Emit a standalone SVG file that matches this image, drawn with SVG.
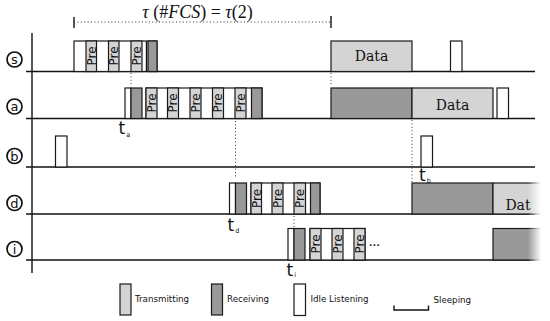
<svg xmlns="http://www.w3.org/2000/svg" width="550" height="321" viewBox="0 0 550 321">
<style>
.ax{stroke:#111;stroke-width:1.4;fill:none}
.tx{fill:#d4d4d4;stroke:#1a1a1a;stroke-width:1.2}
.rx{fill:#999;stroke:#1a1a1a;stroke-width:1.2}
.il{fill:#fff;stroke:#1a1a1a;stroke-width:1.2}
.dot{stroke:#333;stroke-width:1;stroke-dasharray:1 2.4;fill:none}
.pre{font-family:"DejaVu Sans",sans-serif;font-size:12px;fill:#111;text-anchor:middle}
.data{font-family:"DejaVu Serif",serif;font-size:14px;fill:#111;text-anchor:middle}
.lg{font-family:"DejaVu Sans",sans-serif;font-size:8.7px;fill:#111}
.nd{font-family:"DejaVu Sans",sans-serif;font-size:13px;font-weight:500;fill:#111;text-anchor:middle}
.t{font-family:"DejaVu Sans",sans-serif;font-size:17px;fill:#111}
.sub{font-family:"DejaVu Sans",sans-serif;font-size:6.5px;fill:#111}
.tau{font-family:"Liberation Serif",serif;font-size:18px;fill:#111}
</style>
<defs>
<linearGradient id="fade" x1="0" y1="0" x2="1" y2="0">
<stop offset="0" stop-color="#fff" stop-opacity="0"/>
<stop offset="0.6" stop-color="#fff" stop-opacity="1"/>
<stop offset="1" stop-color="#fff" stop-opacity="1"/>
</linearGradient>
</defs>

<g id="axes">
<line class="ax" x1="32" y1="33" x2="32" y2="273"/>
<line class="ax" x1="26" y1="71.5" x2="535" y2="71.5"/>
<line class="ax" x1="26" y1="118.5" x2="535" y2="118.5"/>
<line class="ax" x1="26" y1="167" x2="535" y2="167"/>
<line class="ax" x1="26" y1="214" x2="535" y2="214"/>
<line class="ax" x1="26" y1="260" x2="535" y2="260"/>
</g>

<g id="labels">
<g id="node-s"><circle cx="14.5" cy="59.5" r="7.5" fill="#fff" stroke="#111" stroke-width="1.7"/><text class="nd" x="14.5" y="64">s</text></g>
<g id="node-a"><circle cx="14.5" cy="106.5" r="7.5" fill="#fff" stroke="#111" stroke-width="1.7"/><text class="nd" x="14.5" y="111">a</text></g>
<g id="node-b"><circle cx="14.5" cy="156" r="7.5" fill="#fff" stroke="#111" stroke-width="1.7"/><text class="nd" x="14.5" y="160.5">b</text></g>
<g id="node-d"><circle cx="14.5" cy="203" r="7.5" fill="#fff" stroke="#111" stroke-width="1.7"/><text class="nd" x="14.5" y="207.5">d</text></g>
<g id="node-i"><circle cx="14.5" cy="249" r="7.5" fill="#fff" stroke="#111" stroke-width="1.7"/><text class="nd" x="14.5" y="253.5">i</text></g>
</g>

<g id="tau">
<line class="dot" x1="74" y1="22" x2="331" y2="22"/>
<line class="ax" x1="74" y1="17" x2="74" y2="28" stroke-width="1.1"/>
<line class="ax" x1="331" y1="16" x2="331" y2="28" stroke-width="1.1"/>
<text class="tau" x="197.5" y="18" text-anchor="middle"><tspan font-style="italic">τ</tspan> (#<tspan font-style="italic">FCS</tspan>)  =  <tspan font-style="italic">τ</tspan>(2)</text>
</g>

<g id="row-s">
<rect class="il" x="74" y="41" width="83" height="30.5"/>
<rect class="tx" x="86" y="41" width="10.5" height="30.5"/>
<text class="pre" transform="translate(95.5,56) rotate(-90)">Pre</text>
<rect class="tx" x="108.5" y="41" width="10.5" height="30.5"/>
<text class="pre" transform="translate(118,56) rotate(-90)">Pre</text>
<rect class="tx" x="131" y="41" width="11" height="30.5"/>
<text class="pre" transform="translate(140.8,56) rotate(-90)">Pre</text>
<line class="ax" x1="146.5" y1="41" x2="146.5" y2="71.5" stroke-width="1"/>
<rect class="rx" x="148" y="41" width="9" height="30.5"/>
<rect class="tx" x="331" y="41" width="81" height="30.5"/>
<text class="data" x="371.5" y="61">Data</text>
<rect class="il" x="450.5" y="41" width="11.5" height="30.5"/>
</g>

<g id="row-a">
<rect class="il" x="125" y="88" width="6" height="30.5"/>
<rect class="rx" x="131" y="88" width="11" height="30.5"/>
<rect class="il" x="146" y="88" width="116" height="30.5"/>
<rect class="tx" x="146" y="88" width="11" height="30.5"/>
<text class="pre" transform="translate(155.8,103) rotate(-90)">Pre</text>
<rect class="tx" x="167.5" y="88" width="11" height="30.5"/>
<text class="pre" transform="translate(177.3,103) rotate(-90)">Pre</text>
<rect class="tx" x="190" y="88" width="11" height="30.5"/>
<text class="pre" transform="translate(199.8,103) rotate(-90)">Pre</text>
<rect class="tx" x="212.5" y="88" width="11" height="30.5"/>
<text class="pre" transform="translate(222.3,103) rotate(-90)">Pre</text>
<rect class="tx" x="235" y="88" width="11" height="30.5"/>
<text class="pre" transform="translate(244.8,103) rotate(-90)">Pre</text>
<rect class="rx" x="251.5" y="88" width="10.5" height="30.5"/>
<rect class="rx" x="331" y="88" width="81" height="30.5"/>
<rect class="tx" x="412" y="88" width="81" height="30.5"/>
<text class="data" x="452.5" y="110">Data</text>
<rect class="il" x="497" y="88" width="11.5" height="30.5"/>
</g>

<g id="row-b">
<rect class="il" x="55.5" y="136" width="11.5" height="31"/>
<rect class="il" x="421" y="136" width="11.5" height="31"/>
</g>

<g id="row-d">
<rect class="il" x="229.5" y="183" width="6" height="31"/>
<rect class="rx" x="235.5" y="183" width="11" height="31"/>
<rect class="il" x="251" y="183" width="69" height="31"/>
<rect class="tx" x="251" y="183" width="10.5" height="31"/>
<text class="pre" transform="translate(260.5,198.5) rotate(-90)">Pre</text>
<rect class="tx" x="272" y="183" width="11" height="31"/>
<text class="pre" transform="translate(281.8,198.5) rotate(-90)">Pre</text>
<rect class="tx" x="294" y="183" width="11.5" height="31"/>
<text class="pre" transform="translate(304.3,198.5) rotate(-90)">Pre</text>
<rect class="rx" x="310.5" y="183" width="9.5" height="31"/>
<rect class="rx" x="412" y="183" width="81" height="31"/>
<rect class="tx" x="493" y="183" width="81" height="31"/>
<text class="data" x="518" y="210" text-anchor="start">Dat</text>
</g>

<g id="row-i">
<rect class="il" x="288" y="228.5" width="6" height="31.5"/>
<rect class="rx" x="294" y="228.5" width="11" height="31.5"/>
<rect class="il" x="310" y="228.5" width="55" height="31.5"/>
<rect class="tx" x="310" y="228.5" width="11" height="31.5"/>
<text class="pre" transform="translate(319.8,244) rotate(-90)">Pre</text>
<rect class="tx" x="332" y="228.5" width="11" height="31.5"/>
<text class="pre" transform="translate(341.8,244) rotate(-90)">Pre</text>
<rect class="tx" x="354" y="228.5" width="11" height="31.5"/>
<text class="pre" transform="translate(363.8,244) rotate(-90)">Pre</text>
<text class="lg" x="369" y="245.5" font-size="15px" font-weight="bold" letter-spacing="0.5">...</text>
<rect class="rx" x="493" y="228.5" width="81" height="31.5"/>
</g>

<rect id="fade-edge" x="528" y="180" width="22" height="84" fill="url(#fade)"/>

<g id="connectors">
<line class="dot" x1="131" y1="73" x2="131" y2="86"/>
<line class="dot" x1="331" y1="73" x2="331" y2="86"/>
<line class="dot" x1="235.5" y1="121" x2="235.5" y2="177"/>
<line class="dot" x1="412" y1="120" x2="412" y2="182"/>
<line class="dot" x1="294" y1="216" x2="294" y2="227"/>
</g>

<g id="time-labels">
<text class="t" x="118.5" y="134">t<tspan class="sub" dx="1" dy="2.5">a</tspan></text>
<text class="t" x="419" y="181">t<tspan class="sub" dx="1" dy="1.5">b</tspan></text>
<text class="t" x="227.5" y="230.5">t<tspan class="sub" dx="1" dy="2">d</tspan></text>
<text class="t" x="286.5" y="275.5">t<tspan class="sub" dx="1" dy="1.5">i</tspan></text>
</g>

<g id="legend">
<rect class="tx" x="120" y="284" width="11" height="31"/>
<text class="lg" x="135" y="302">Transmitting</text>
<rect class="rx" x="211.5" y="284" width="11" height="31"/>
<text class="lg" x="227" y="302">Receiving</text>
<rect class="il" x="294" y="284" width="11.5" height="31.5"/>
<text class="lg" x="310.5" y="302">Idle Listening</text>
<path class="ax" d="M394 305.5 V310 H428.5 V305.5" stroke-width="1.2"/>
<text class="lg" x="433.5" y="303">Sleeping</text>
</g>
</svg>
